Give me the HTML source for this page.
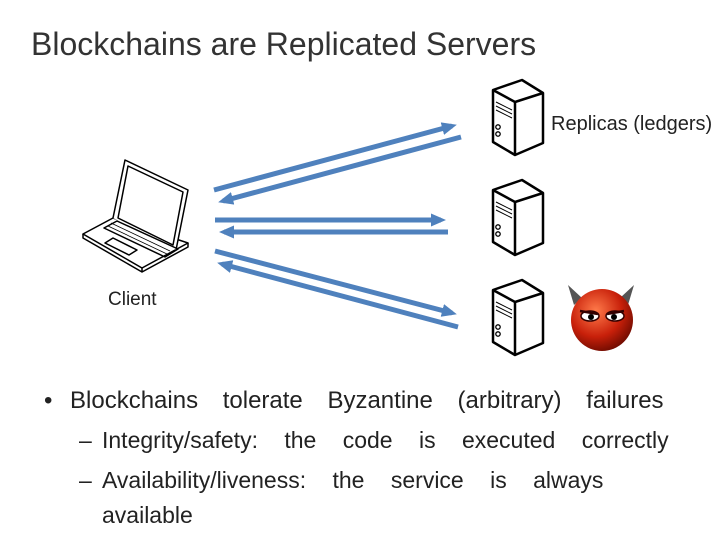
<!DOCTYPE html>
<html><head><style>
body{margin:0;width:720px;height:540px;background:#fff;overflow:hidden;position:relative;font-family:"Liberation Sans",sans-serif;}
.t{position:absolute;white-space:nowrap;color:#222;}
</style></head><body>
<div class="t" style="left:31px;top:26px;font-size:32px;color:#333;">Blockchains are Replicated Servers</div>
<div class="t" style="left:551px;top:113px;font-size:20px;">Replicas (ledgers)</div>
<div class="t" style="left:108px;top:289px;font-size:19px;">Client</div>
<div class="t" style="left:44px;top:387px;font-size:24px;">•</div>
<div class="t" style="left:70px;top:387px;font-size:24px;word-spacing:18px;">Blockchains tolerate Byzantine (arbitrary) failures</div>
<div class="t" style="left:79px;top:427px;font-size:23px;">–</div>
<div class="t" style="left:102px;top:427px;font-size:23px;word-spacing:20px;">Integrity/safety: the code is executed correctly</div>
<div class="t" style="left:79px;top:467px;font-size:23px;">–</div>
<div class="t" style="left:102px;top:467px;font-size:23px;word-spacing:20px;">Availability/liveness: the service is always</div>
<div class="t" style="left:102px;top:502px;font-size:23px;">available</div>
<svg width="720" height="540" style="position:absolute;left:0;top:0">
<defs>
<marker id="a" markerWidth="4" markerHeight="4" refX="2" refY="2" orient="auto" markerUnits="strokeWidth"><path d="M0,0.7 L3,2 L0,3.3z" fill="#4f81bd"/></marker>
<g id="srv" fill="#fff" stroke="#000" stroke-width="2.5" stroke-linejoin="round">
<path d="M0,10 L29,0 L50,13 L50,63 L22,75 L0,62z"/>
<path d="M0,10 L22,22 L50,13 M22,22 L22,75" fill="none"/>
<path d="M3,22 L19,30 M3,26 L19,34 M3,30 L19,38" fill="none" stroke-width="1"/>
<circle cx="5" cy="47" r="2.2" stroke-width="1.3"/><circle cx="5" cy="54" r="2.2" stroke-width="1.3"/>
</g>
<radialGradient id="rg" cx="0.4" cy="0.35" r="0.7"><stop offset="0" stop-color="#ff7a4a"/><stop offset="0.6" stop-color="#c8200a"/><stop offset="1" stop-color="#6a0a00"/></radialGradient>
</defs>
<g stroke="#4f81bd" stroke-width="5" fill="none">
<line x1="214" y1="190" x2="452" y2="126" marker-end="url(#a)"/>
<line x1="461" y1="137" x2="223" y2="201" marker-end="url(#a)"/>
<line x1="215" y1="220" x2="441" y2="220" marker-end="url(#a)"/>
<line x1="448" y1="232" x2="224" y2="232" marker-end="url(#a)"/>
<line x1="215" y1="251" x2="452" y2="313" marker-end="url(#a)"/>
<line x1="458" y1="327" x2="222" y2="264" marker-end="url(#a)"/>
</g>
<use href="#srv" transform="translate(493,80)"/>
<use href="#srv" transform="translate(493,180)"/>
<use href="#srv" transform="translate(493,280)"/>
<g stroke="#000" stroke-width="1.5" fill="#fff" stroke-linejoin="round">
<path d="M113,218 L83,234 L142,268 L188,243 z"/>
<path d="M83,234 L83,238 L142,272 L188,247 L188,243 M142,268 L142,272" fill="none"/>
<path d="M113,218 L125,160 L188,190 L176,250"/>
<path d="M128,166 L183,192 L173,245 L118,218z"/>
<path d="M104,228 L117,221 L178,249 L165,257z" fill="none"/>
<path d="M111,223 L170,251 M108,226 L167,254" fill="none" stroke-width="0.8"/>
<path d="M105,243 L113,238 L137,250 L129,255z"/>
</g>
<g>
<path d="M574,305 L568,285 L582,298z" fill="#555"/>
<path d="M628,305 L634,285 L620,298z" fill="#555"/>
<circle cx="602" cy="320" r="31" fill="url(#rg)"/>
<ellipse cx="590" cy="316" rx="9" ry="5" fill="#fff" stroke="#300" stroke-width="1.5"/>
<ellipse cx="615" cy="316" rx="9" ry="5" fill="#fff" stroke="#300" stroke-width="1.5"/>
<circle cx="591" cy="317" r="3" fill="#000"/><circle cx="614" cy="317" r="3" fill="#000"/>
<path d="M580,311 L598,314 M624,311 L607,314" stroke="#300" stroke-width="2.5"/>
</g>
</svg>
</body></html>
